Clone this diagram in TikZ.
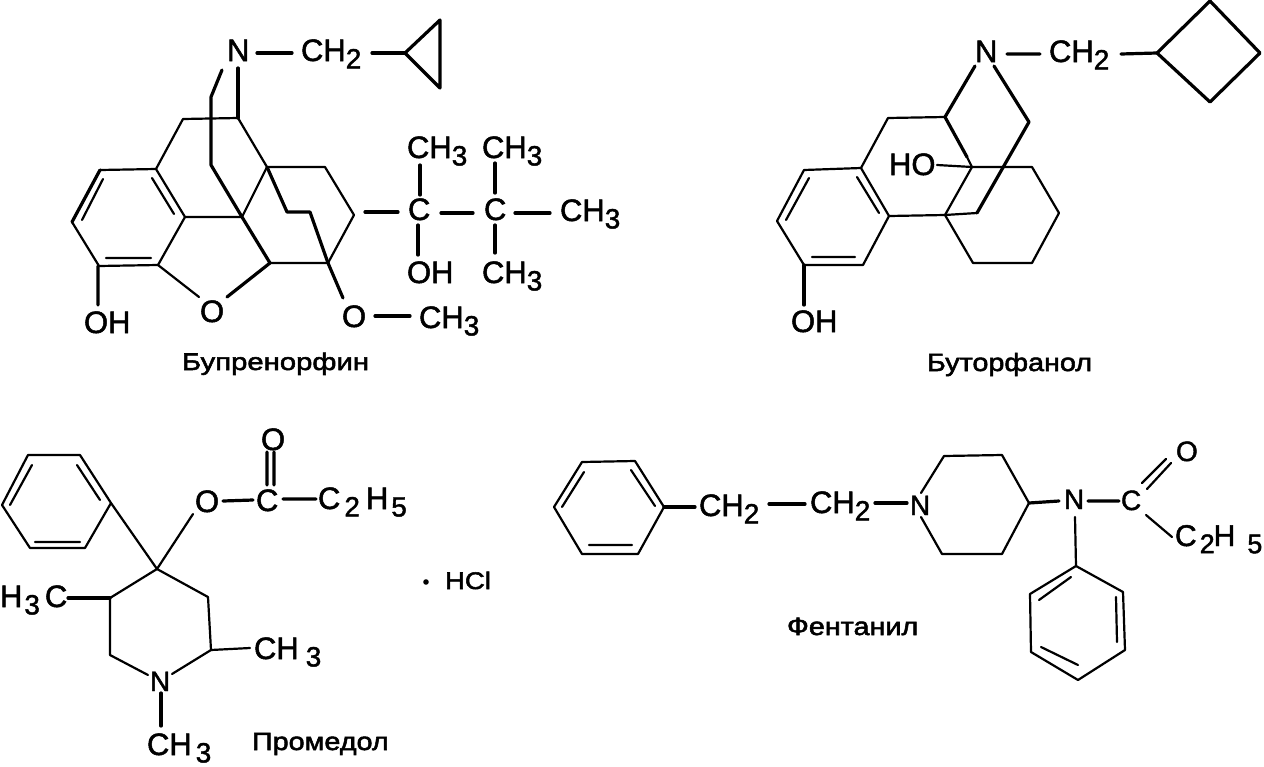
\documentclass[tikz,border=0pt]{standalone}
\usepackage{fontspec}
\setmainfont[FakeBold=1.6]{Liberation Sans}
\newfontfamily\capfont[FakeBold=2.2,FakeStretch=1.15]{Liberation Sans}
\newfontfamily\capwide[FakeBold=2.2,FakeStretch=1.22]{Liberation Sans}
\newcommand{\dn}[1]{\raisebox{-0.24em}{\scalebox{0.9}{#1}}}
\newcommand{\cpt}[2]{\coordinate (#1) at (#2);}
\tikzset{
  bt/.style={draw=black,line width=2.2pt,line join=round,line cap=round},
  bk/.style={draw=black,line width=3.2pt,line join=round,line cap=round},
  atom/.style={inner sep=0pt,outer sep=0pt,anchor=base west,text=black,font=\fontsize{31}{31}\selectfont},
  atomf/.style={atom,font=\fontsize{28}{28}\selectfont},
  caplabel/.style={inner sep=0pt,outer sep=0pt,anchor=base west,text=black,font=\capfont\fontsize{25}{25}\selectfont}
}
\begin{document}
\begin{tikzpicture}[x=1pt,y=-1pt]
\useasboundingbox (0,0) rectangle (1264,766);
\fill[white] (0,0) rectangle (1264,766);
%% ---------- Buprenorphine ----------
\node[atom] (bN) at (227,61) {N};
\node[atom] (bCH2) at (301,61) {CH\dn{2}};
\node[atom] (bOH) at (84,333) {OH};
\node[atom] (bO) at (200,322) {O};
\node[atom] (bOm) at (342,327) {O};
\node[atom] (bMe) at (419,328) {CH\dn{3}};
\node[atom] (bMt1) at (407,158) {CH\dn{3}};
\node[atom] (bC1) at (408,220) {C};
\node[atom] (bOH2) at (407,283) {OH};
\node[atom] (bC2) at (484,220) {C};
\node[atom] (bMt2) at (482,158) {CH\dn{3}};
\node[atom] (bMr) at (560,221) {CH\dn{3}};
\node[atom] (bMl) at (482,283) {CH\dn{3}};
\node[caplabel,font=\capwide\fontsize{24}{24}\selectfont] (bName) at (182,370) {Бупренорфин};
\cpt{a1}{257,53}\cpt{a2}{292,53}\cpt{a3}{372,53}\cpt{a4}{405,53}\cpt{a5}{440,20}\cpt{a6}{440,88}
\cpt{n1}{222,70}\cpt{n2}{211,97}\cpt{n3}{211,165}\cpt{q}{242,217}\cpt{j}{270,263}
\cpt{n4}{238,68}\cpt{t2}{238,118}\cpt{t1}{183,119}\cpt{t3}{267,167}
\cpt{r1}{100,170}\cpt{r2}{156,169}\cpt{r3}{185,217}\cpt{r4}{158,265}\cpt{r5}{99,266}\cpt{r6}{72,222}
\cpt{i1}{103,179}\cpt{i2}{82,220}\cpt{i3}{152,178}\cpt{i4}{174,214}\cpt{i5}{106,258}\cpt{i6}{151,258}
\cpt{o1}{98,266}\cpt{o2}{98,305}\cpt{o3}{199,297}\cpt{o4}{227,297}
\cpt{c1}{325,167}\cpt{c2}{354,215}\cpt{c3}{328,263}
\cpt{e1}{287,212}\cpt{e2}{310,212}\cpt{e3}{343,298}
\cpt{m1}{375,316}\cpt{m2}{410,316}
\cpt{s1}{365,212}\cpt{s2}{398,212}\cpt{s3}{420,165}\cpt{s4}{420,195}\cpt{s5}{418,225}\cpt{s6}{418,255}
\cpt{s7}{441,213}\cpt{s8}{473,213}\cpt{s9}{495,163}\cpt{s10}{495,193}\cpt{s11}{515,213}\cpt{s12}{550,213}\cpt{s13}{495,225}\cpt{s14}{495,253}
\draw[bk] (a1)--(a2) (a3)--(a4);
\draw[bk] (a5)--(a4)--(a6)--cycle;
\draw[bk] (n1)--(n2)--(n3)--(q)--(j);
\draw[bk] (n4)--(t2);
\draw[bt] (r2)--(t1)--(t2)--(t3);
\draw[bt] (r1)--(r2)--(r3)--(r4)--(r5)--(r6)--cycle;
\draw[bt] (i1)--(i2) (i3)--(i4) (i5)--(i6);
\draw[bk] (r6)--(r1) (o1)--(o2);
\draw[bt] (r4)--(o3);
\draw[bk] (j)--(o4);
\draw[bt] (r3)--(q)--(t3);
\draw[bt] (t3)--(c1)--(c2)--(c3)--(j);
\draw[bk] (t3)--(e1)--(e2)--(c3);
\draw[bk] (c3)--(e3);
\draw[bk] (m1)--(m2) (s1)--(s2) (s3)--(s4) (s5)--(s6) (s7)--(s8) (s9)--(s10) (s11)--(s12) (s13)--(s14);
%% ---------- Butorphanol ----------
\node[atom] (uN) at (975,62) {N};
\node[atom] (uCH2) at (1049,62) {CH\dn{2}};
\node[atom] (uHO) at (889,175) {HO};
\node[atom] (uOH) at (791,332) {OH};
\node[caplabel] (uName) at (927,371) {Буторфанол};
\cpt{ua1}{1007,54}\cpt{ua2}{1040,54}\cpt{ua3}{1121,54}\cpt{ub1}{1157,53}\cpt{ub2}{1210,1}\cpt{ub3}{1260,53}\cpt{ub4}{1210,102}
\cpt{un1}{975,66}\cpt{un2}{945,117}\cpt{ut1}{888,118}\cpt{ut3}{967,157}\cpt{uk}{972,167}
\cpt{un3}{994,66}\cpt{un4}{1029,122}\cpt{un5}{977,213}\cpt{uq}{945,215}
\cpt{uc1}{1032,167}\cpt{uc2}{1059,213}\cpt{uc3}{1032,263}\cpt{uc4}{973,263}
\cpt{uh}{937,165}
\cpt{ur1}{804,170}\cpt{ur2}{861,168}\cpt{ur3}{889,216}\cpt{ur4}{863,265}\cpt{ur5}{804,265}\cpt{ur6}{777,221}
\cpt{ui1}{809,178}\cpt{ui2}{786,220}\cpt{ui3}{857,177}\cpt{ui4}{879,213}\cpt{ui5}{812,257}\cpt{ui6}{855,257}
\cpt{uo}{804,305}
\draw[bk] (ua1)--(ua2) (ua3)--(ub1);
\draw[bk] (ub1)--(ub2)--(ub3)--(ub4)--cycle;
\draw[bk] (un1)--(un2) (un3)--(un4)--(un5);
\draw[bt] (un5)--(uq);
\draw[bt] (ur2)--(ut1)--(un2);
\draw[bk] (un2)--(ut3);
\draw[bt] (uk)--(uq)--(ur3);
\draw[bt] (uh)--(uk)--(uc1)--(uc2)--(uc3)--(uc4)--(uq);
\draw[bt] (ut3)--(uk);
\draw[bt] (ur1)--(ur2)--(ur3)--(ur4)--(ur5)--(ur6)--cycle;
\draw[bt] (ui1)--(ui2) (ui3)--(ui4) (ui5)--(ui6);
\draw[bk] (ur5)--(uo);
%% ---------- Promedol ----------
\node[atom] (pO) at (195,512) {O};
\node[atom] (pC) at (256,511) {C};
\node[atom] (pOt) at (261,450) {O};
\node[atom] (pEt) at (318,509) {C\kern4pt\dn{2}\kern6pt H\kern3pt\dn{5}};
\node[atom] (pMl) at (0,607) {H\kern2pt\dn{3}\kern5pt C};
\node[atom] (pMr) at (254,659) {CH\kern7pt\dn{3}};
\node[atomf] (pN) at (150,691) {N};
\node[atom] (pMb) at (147,755) {CH\kern4pt\dn{3}};
\node[caplabel] (pName) at (252,750) {Промедол};
\node[caplabel,font=\capfont\fontsize{24}{24}\selectfont] (pHCl) at (445,589) {HCl};
\fill (426,582) circle (2.8pt);
\cpt{pr1}{28,455}\cpt{pr2}{80,455}\cpt{pr3}{111,503}\cpt{pr4}{85,548}\cpt{pr5}{30,548}\cpt{pr6}{2,505}
\cpt{pi1}{32,465}\cpt{pi2}{10,505}\cpt{pi3}{77,465}\cpt{pi4}{100,500}\cpt{pi5}{35,542}\cpt{pi6}{80,542}
\cpt{pq}{157,569}\cpt{po1}{193,514}\cpt{po2}{223,501}\cpt{po3}{253,500}
\cpt{pd1}{267,452}\cpt{pd2}{267,485}\cpt{pd3}{274,452}\cpt{pd4}{274,485}\cpt{pe1}{283,499}\cpt{pe2}{316,499}
\cpt{pg1}{110,598}\cpt{pg2}{110,655}\cpt{pg3}{148,675}\cpt{pg4}{172,674}\cpt{pg5}{211,650}\cpt{pg6}{208,597}
\cpt{pm1}{250,648}\cpt{pm2}{68,598}\cpt{pn1}{161,693}\cpt{pn2}{161,726}
\draw[bt] (pr1)--(pr2)--(pr3)--(pr4)--(pr5)--(pr6)--cycle;
\draw[bt] (pi1)--(pi2) (pi3)--(pi4) (pi5)--(pi6);
\draw[bt] (pr3)--(pq)--(po1);
\draw[bk] (po2)--(po3) (pd1)--(pd2) (pd3)--(pd4) (pe1)--(pe2);
\draw[bt] (pq)--(pg1)--(pg2)--(pg3) (pg4)--(pg5)--(pg6)--(pq);
\draw[bt] (pg5)--(pm1);
\draw[bk] (pg1)--(pm2) (pn1)--(pn2);
%% ---------- Fentanyl ----------
\node[atom] (fC1) at (699,516) {CH\dn{2}};
\node[atom] (fC2) at (810,513) {CH\dn{2}};
\node[atomf] (fN1) at (910,515) {N};
\node[atomf] (fN2) at (1064,509) {N};
\node[atomf] (fC) at (1121,510) {C};
\node[atomf] (fO) at (1176,461) {O};
\node[atom,font=\fontsize{30}{30}\selectfont] (fEt) at (1175,546) {C\kern3pt\dn{2}\kern-1pt H\kern12pt\dn{5}};
\node[caplabel] (fName) at (787,635) {Фентанил};
\cpt{fr1}{582,462}\cpt{fr2}{635,461}\cpt{fr3}{664,507}\cpt{fr4}{638,554}\cpt{fr5}{582,554}\cpt{fr6}{554,507}
\cpt{fi1}{584,472}\cpt{fi2}{562,507}\cpt{fi3}{631,470}\cpt{fi4}{655,506}\cpt{fi5}{589,545}\cpt{fi6}{632,545}
\cpt{fb1}{695,507}\cpt{fb2}{769,504}\cpt{fb3}{805,504}\cpt{fb4}{875,503}\cpt{fb5}{907,503}
\cpt{fg1}{921,493}\cpt{fg2}{944,456}\cpt{fg3}{1002,455}\cpt{fg4}{1029,503}\cpt{fg5}{1002,554}\cpt{fg6}{942,554}\cpt{fg7}{921,517}
\cpt{fh1}{1059,501}\cpt{fh2}{1088,501}\cpt{fh3}{1119,501}
\cpt{fd1}{1142,483}\cpt{fd2}{1166,459}\cpt{fd3}{1147,489}\cpt{fd4}{1171,463}
\cpt{fe1}{1146,515}\cpt{fe2}{1172,537}\cpt{fn1}{1075,517}
\cpt{fp1}{1076,566}\cpt{fp2}{1123,592}\cpt{fp3}{1125,650}\cpt{fp4}{1078,680}\cpt{fp5}{1031,652}\cpt{fp6}{1030,594}
\cpt{fj1}{1039,600}\cpt{fj2}{1071,577}\cpt{fj3}{1116,597}\cpt{fj4}{1117,642}\cpt{fj5}{1041,647}\cpt{fj6}{1078,665}
\draw[bt] (fr1)--(fr2)--(fr3)--(fr4)--(fr5)--(fr6)--cycle;
\draw[bt] (fi1)--(fi2) (fi3)--(fi4) (fi5)--(fi6);
\draw[bk] (fr3)--(fb1) (fb2)--(fb3) (fb4)--(fb5);
\draw[bt] (fg1)--(fg2)--(fg3)--(fg4)--(fg5)--(fg6)--(fg7);
\draw[bk] (fg4)--(fh1) (fh2)--(fh3);
\draw[bt] (fd1)--(fd2) (fd3)--(fd4) (fe1)--(fe2) (fn1)--(fp1);
\draw[bt] (fp1)--(fp2)--(fp3)--(fp4)--(fp5)--(fp6)--cycle;
\draw[bt] (fj1)--(fj2) (fj3)--(fj4) (fj5)--(fj6);
\end{tikzpicture}
\end{document}
